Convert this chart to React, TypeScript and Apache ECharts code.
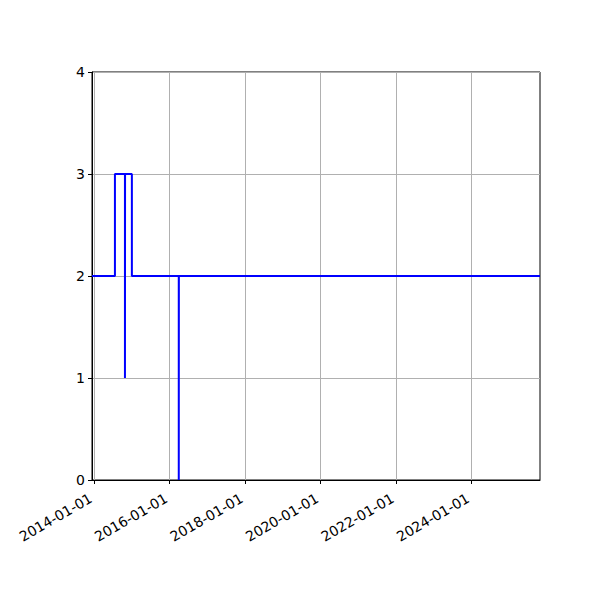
import * as echarts from 'echarts';
import { useEffect, useRef } from 'react';

// step points (date, value); value holds until next date
const dates = [
  '2013-12-10',
  '2014-07-20',
  '2014-10-25',
  '2014-10-26',
  '2014-12-31',
  '2016-03-29',
  '2016-03-30',
  '2025-10-25',
];
const values = [2, 3, 1, 3, 2, 0, 2, 2];
const tickDates = ['2014-01-01', '2016-01-01', '2018-01-01', '2020-01-01', '2022-01-01', '2024-01-01'];
const xStart = '2013-12-10';
const xEnd = '2025-10-25';

const ts = (d: string) => {
  const [y, m, day] = d.split('-').map(Number);
  return Date.UTC(y, m - 1, day);
};

const fmt = (v: number) => {
  const d = new Date(v);
  const p = (n: number) => String(n).padStart(2, '0');
  return `${d.getUTCFullYear()}-${p(d.getUTCMonth() + 1)}-${p(d.getUTCDate())}`;
};

export default function App() {
  const chartRef = useRef<HTMLDivElement>(null);

  useEffect(() => {
    if (!chartRef.current) return;
    const chart = echarts.init(chartRef.current, undefined, { renderer: 'svg' });
    const ticks = tickDates.map(ts);

    const option: echarts.EChartsOption = {
      animation: false,
      backgroundColor: '#fff',
      textStyle: { fontFamily: 'DejaVu Sans' },
      grid: {
        left: 92,
        right: 60,
        top: 72,
        bottom: 120,
        show: true,
        borderColor: '#000',
        borderWidth: 1,
      },
      xAxis: {
        type: 'value',
        min: ts(xStart),
        max: ts(xEnd),
        axisLine: { show: true, lineStyle: { color: '#000', width: 1 } },
        axisTick: {
          show: true,
          customValues: ticks,
          length: 4,
          lineStyle: { color: '#000' },
        },
        axisLabel: {
          customValues: ticks,
          formatter: (v: number) => fmt(v),
          rotate: 30,
          color: '#000',
          fontSize: 14,
          margin: 15,
          padding: [0, 4, 0, 0],
        },
        splitLine: { show: true, lineStyle: { color: '#b0b0b0', width: 1 } },
      },
      yAxis: {
        type: 'value',
        min: 0,
        max: 4,
        interval: 1,
        axisLine: { show: true, lineStyle: { color: '#000', width: 1 } },
        axisTick: { show: true, length: 4, lineStyle: { color: '#000' } },
        axisLabel: { color: '#000', fontSize: 14, margin: 7 },
        splitLine: { show: true, lineStyle: { color: '#b0b0b0', width: 1 } },
      },
      series: [
        {
          type: 'line',
          step: 'end',
          data: dates.map((d, i) => [ts(d), values[i]]),
          showSymbol: false,
          lineStyle: { color: '#0000ff', width: 2 },
          itemStyle: { color: '#0000ff' },
        },
      ],
    };

    chart.setOption(option);
    return () => {
      chart.dispose();
    };
  }, []);

  return (
    <div
      ref={chartRef}
      style={{ position: 'fixed', left: 0, top: 0, width: 600, height: 600 }}
    />
  );
}
